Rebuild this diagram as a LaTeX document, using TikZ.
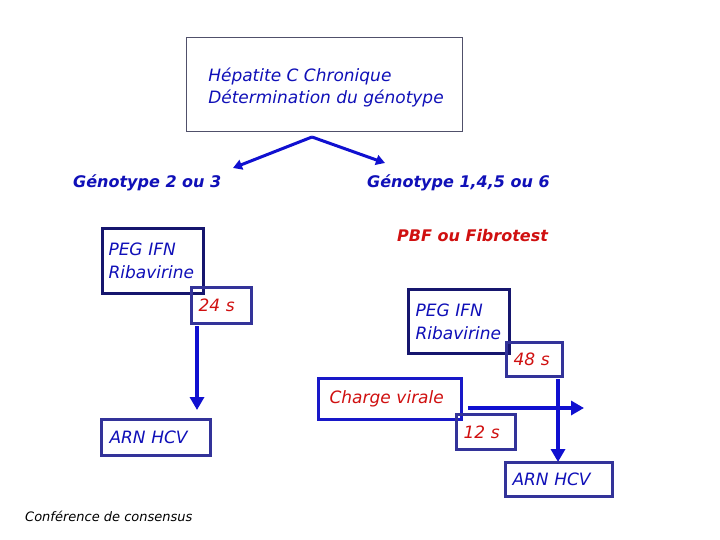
\documentclass[tikz,border=0pt]{standalone}
\usepackage{fontspec}
\setmainfont{DejaVu Sans}
\usetikzlibrary{arrows.meta}
\hyphenpenalty=10000
\exhyphenpenalty=10000
\definecolor{txtblue}{HTML}{1010B8}
\definecolor{txtred}{HTML}{D01010}
\definecolor{navy}{HTML}{16166E}
\definecolor{slate}{HTML}{333399}
\definecolor{boxblue}{HTML}{1818C8}
\definecolor{arrblue}{HTML}{1010D0}
\definecolor{graybox}{HTML}{50506A}
\begin{document}
\begin{tikzpicture}[x=1pt,y=-1pt,
  box/.style={draw, line width=3pt, inner xsep=7pt, inner ysep=0pt, align=left,
    font=\itshape\fontsize{17}{23}\selectfont, text=txtblue},
  navybox/.style={box, draw=navy},
  slatebox/.style={box, draw=slate},
  redtxt/.style={text=txtred},
  head/.style={font=\bfseries\itshape\fontsize{16}{18}\selectfont, text=txtblue, anchor=west, inner sep=0pt},
  arr/.style={draw=arrblue, line width=4pt, -{Triangle[width=14pt,length=13pt]}},
  thinarr/.style={draw=arrblue, line width=3pt, -{Triangle[width=10pt,length=9pt]}}]
\useasboundingbox[fill=white] (0,0) rectangle (720,540);

% top box
\node[draw=graybox, line width=1pt, inner sep=0pt, align=left, text=txtblue,
  minimum width=276pt, minimum height=94pt,
  font=\itshape\fontsize{17}{22}\selectfont] (top) at (324.5,84.5) {};
\node[align=left, text=txtblue, inner sep=0pt, font=\itshape\fontsize{17}{22}\selectfont]
  (toptxt) at (326,87) {Hépatite C Chronique\\Détermination du génotype};

\coordinate (apex) at (312,137);
\coordinate (lend) at (233,168);
\coordinate (rend) at (385,163);
\draw[thinarr] (apex) -- (lend);
\draw[thinarr] (apex) -- (rend);

\node[head] (g23) at (73,183) {Génotype 2 ou 3};
\node[head] (g1456) at (367,183) {Génotype 1,4,5 ou 6};

% left branch
\node[navybox, inner xsep=6pt, text width=89pt, minimum height=65pt] (peg1) at (153,261) {PEG IFN\\Ribavirine};
\node[slatebox, text width=46pt, minimum height=36pt, redtxt] (s24) at (221.5,305.5) {24 s};
\node[slatebox, inner xsep=8pt, text width=93pt, minimum height=36pt] (arn1) at (156,437.5) {ARN HCV};
\coordinate (a24s) at (197,326);
\coordinate (a24e) at (197,410);
\draw[arr] (a24s) -- (a24e);

% right branch
\node[head, text=txtred] (pbf) at (397,236) {PBF ou Fibrotest};
\node[navybox, inner xsep=7pt, text width=87pt, minimum height=64pt] (peg2) at (459,321.5) {PEG IFN\\Ribavirine};
\node[slatebox, text width=42pt, minimum height=34pt, redtxt] (s48) at (534.5,359.5) {48 s};

\coordinate (hs) at (468,408);
\coordinate (he) at (584,408);
\coordinate (a48s) at (558,379);
\coordinate (a48e) at (558,462);
\draw[arr] (a48s) -- (a48e);
\draw[arr] (hs) -- (he);

\node[box, draw=boxblue, inner xsep=11pt, text width=121pt, minimum height=41pt, redtxt] (cv) at (390,399) {Charge virale};
\node[slatebox, text width=45pt, minimum height=35pt, redtxt] (s12) at (486,432) {12 s};
\node[slatebox, text width=93pt, minimum height=34pt] (arn2) at (559,479.5) {ARN HCV};

\node[anchor=west, inner sep=0pt, font=\itshape\fontsize{13}{15}\selectfont] (conf) at (25,516) {Conférence de consensus};
\end{tikzpicture}
\end{document}
